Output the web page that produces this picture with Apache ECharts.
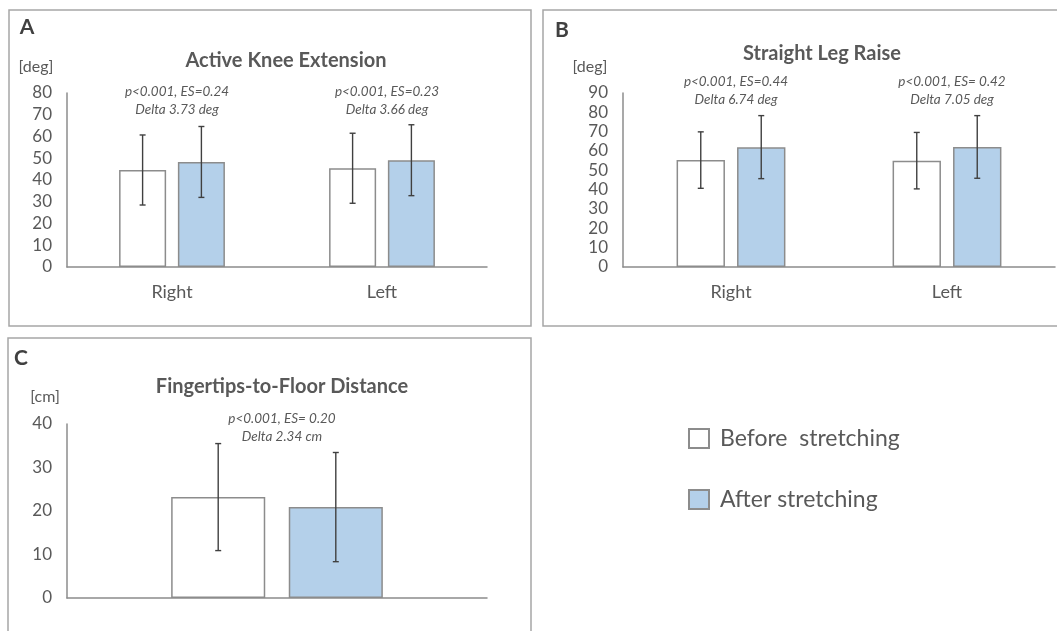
<!DOCTYPE html>
<html>
<head>
<meta charset="utf-8">
<style>
html, body { margin: 0; padding: 0; background: #fff; }
#main { width: 1057px; height: 631px; }
</style>
<script src="https://cdn.jsdelivr.net/npm/echarts@6/dist/echarts.min.js"></script>
</head>
<body>
<div id="main"></div>
<script>
// data
var sides = ['Right', 'Left'];
var akeBefore = [44.6, 45.4];
var akeAfter = [48.3, 49.1];
var akeBeforeSd = [16.1, 16.1];
var akeAfterSd = [16.3, 16.3];
var akeNotes = [['p<0.001, ES=0.24', 'Delta 3.73 deg'], ['p<0.001, ES=0.23', 'Delta 3.66 deg']];

var slrBefore = [55.3, 55.0];
var slrAfter = [62.0, 62.1];
var slrBeforeSd = [14.6, 14.6];
var slrAfterSd = [16.3, 16.2];
var slrNotes = [['p<0.001, ES=0.44', 'Delta 6.74 deg'], ['p<0.001, ES= 0.42', 'Delta 7.05 deg']];

var ffdCats = [''];
var ffdBefore = [23.2];
var ffdAfter = [20.9];
var ffdBeforeSd = [12.3];
var ffdAfterSd = [12.55];
var ffdNotes = [['p<0.001, ES= 0.20', 'Delta 2.34 cm']];

var BEFORE = 'Before  stretching';
var AFTER = 'After stretching';
var FONT = 'Lato, "Open Sans", sans-serif';
var TXT = '#595959';
var EDGE = '#8c8c8c';
var BLUE = '#b4d0ea';

var myChart = echarts.init(document.getElementById('main'));

function errData(vals, sd) {
  var out = [];
  for (var i = 0; i < vals.length; i++) out.push([i, vals[i] - sd[i], vals[i] + sd[i]]);
  return out;
}

function errRender(sign) {
  return function (params, api) {
    var i = api.value(0);
    var band = api.size([1, 0])[0];
    var bw = band * 0.224;
    var off = sign * (bw / 2 + bw * 0.25 / 2);
    var hi = api.coord([i, api.value(2)]);
    var lo = api.coord([i, api.value(1)]);
    var x = hi[0] + off;
    var st = { stroke: '#404040', lineWidth: 1.4 };
    return {
      type: 'group',
      children: [
        { type: 'line', shape: { x1: x, y1: hi[1], x2: x, y2: lo[1] }, style: st },
        { type: 'line', shape: { x1: x - 3, y1: hi[1], x2: x + 3, y2: hi[1] }, style: st },
        { type: 'line', shape: { x1: x - 3, y1: lo[1], x2: x + 3, y2: lo[1] }, style: st }
      ]
    };
  };
}

function panelSeries(idx, before, after, bSd, aSd) {
  return [
    { name: BEFORE, type: 'bar', xAxisIndex: idx, yAxisIndex: idx, data: before,
      barWidth: '22.4%', barGap: '25%',
      itemStyle: { color: '#ffffff', borderColor: EDGE, borderWidth: 1.5 } },
    { name: AFTER, type: 'bar', xAxisIndex: idx, yAxisIndex: idx, data: after,
      barWidth: '22.4%', barGap: '25%',
      itemStyle: { color: BLUE, borderColor: EDGE, borderWidth: 1.5 } },
    { type: 'custom', xAxisIndex: idx, yAxisIndex: idx, renderItem: errRender(-1),
      data: errData(before, bSd), z: 5, silent: true },
    { type: 'custom', xAxisIndex: idx, yAxisIndex: idx, renderItem: errRender(1),
      data: errData(after, aSd), z: 5, silent: true }
  ];
}

function xAx(idx, cats) {
  return {
    type: 'category', gridIndex: idx, data: cats,
    axisLine: { lineStyle: { color: EDGE, width: 1.5 } },
    axisTick: { show: false },
    axisLabel: { color: TXT, fontFamily: FONT, fontSize: 18, margin: 16 }
  };
}
function yAx(idx, max) {
  return {
    type: 'value', gridIndex: idx, min: 0, max: max, interval: 10,
    splitLine: { show: false },
    axisLine: { show: true, lineStyle: { color: EDGE, width: 1.5 } },
    axisTick: { show: false },
    axisLabel: { color: TXT, fontFamily: FONT, fontSize: 17, margin: 15 }
  };
}

function txt(x, y, s, font, color, align) {
  return { type: 'text', x: x, y: y, z: 10, silent: true,
    style: { text: s, font: font, fill: color || TXT, align: align || 'center', verticalAlign: 'middle' } };
}

var series = []
  .concat(panelSeries(0, akeBefore, akeAfter, akeBeforeSd, akeAfterSd))
  .concat(panelSeries(1, slrBefore, slrAfter, slrBeforeSd, slrAfterSd))
  .concat(panelSeries(2, ffdBefore, ffdAfter, ffdBeforeSd, ffdAfterSd));

var boxStyle = { fill: 'none', stroke: '#a6a6a6', lineWidth: 1.5 };

myChart.setOption({
  animation: false,
  backgroundColor: '#ffffff',
  grid: [
    { left: 67, top: 93, width: 420, height: 174 },
    { left: 623, top: 93, width: 432, height: 174 },
    { left: 67, top: 424, width: 420, height: 174 }
  ],
  xAxis: [xAx(0, sides), xAx(1, sides), xAx(2, ffdCats)],
  yAxis: [yAx(0, 80), yAx(1, 90), yAx(2, 40)],
  legend: {
    data: [BEFORE, AFTER], orient: 'vertical', left: 683, top: 422,
    icon: 'rect', itemWidth: 20, itemHeight: 19, itemGap: 38,
    textStyle: { color: TXT, fontFamily: FONT, fontSize: 23, padding: [0, 0, 0, 6] },
    selectedMode: false
  },
  series: series,
  graphic: [
    { type: 'rect', shape: { x: 9, y: 10, width: 522, height: 316 }, style: boxStyle, silent: true },
    { type: 'rect', shape: { x: 543, y: 10, width: 530, height: 316 }, style: boxStyle, silent: true },
    { type: 'rect', shape: { x: 8, y: 338, width: 523, height: 320 }, style: boxStyle, silent: true },
    txt(27, 27, 'A', 'bold 21px ' + FONT, '#404040'),
    txt(562, 30, 'B', 'bold 21px ' + FONT, '#404040'),
    txt(21, 358, 'C', 'bold 21px ' + FONT, '#404040'),
    txt(286, 61, 'Active Knee Extension', 'bold 20px ' + FONT),
    txt(822, 54, 'Straight Leg Raise', 'bold 20px ' + FONT),
    txt(282, 387, 'Fingertips-to-Floor Distance', 'bold 20px ' + FONT),
    txt(36, 67, '[deg]', '16px ' + FONT),
    txt(590, 67, '[deg]', '16px ' + FONT),
    txt(45, 397, '[cm]', '16px ' + FONT)
  ]
});

// annotations centred over each category
function notes(gridIdx, cats, list, y1, y2) {
  var g = [];
  for (var i = 0; i < cats.length; i++) {
    var p = myChart.convertToPixel({ xAxisIndex: gridIdx, yAxisIndex: gridIdx }, [i, 0]);
    g.push(txt(p[0] + 5, y1, list[i][0], 'italic 13.5px ' + FONT));
    g.push(txt(p[0] + 5, y2, list[i][1], 'italic 13.5px ' + FONT));
  }
  return g;
}
var extra = [].concat(notes(0, sides, akeNotes, 92, 110))
  .concat(notes(1, sides, slrNotes, 82, 100))
  .concat(notes(2, ffdCats, ffdNotes, 419, 437));
var gr = myChart.getOption().graphic[0].elements.slice();
myChart.setOption({ graphic: gr.concat(extra) });
</script>
</body>
</html>
